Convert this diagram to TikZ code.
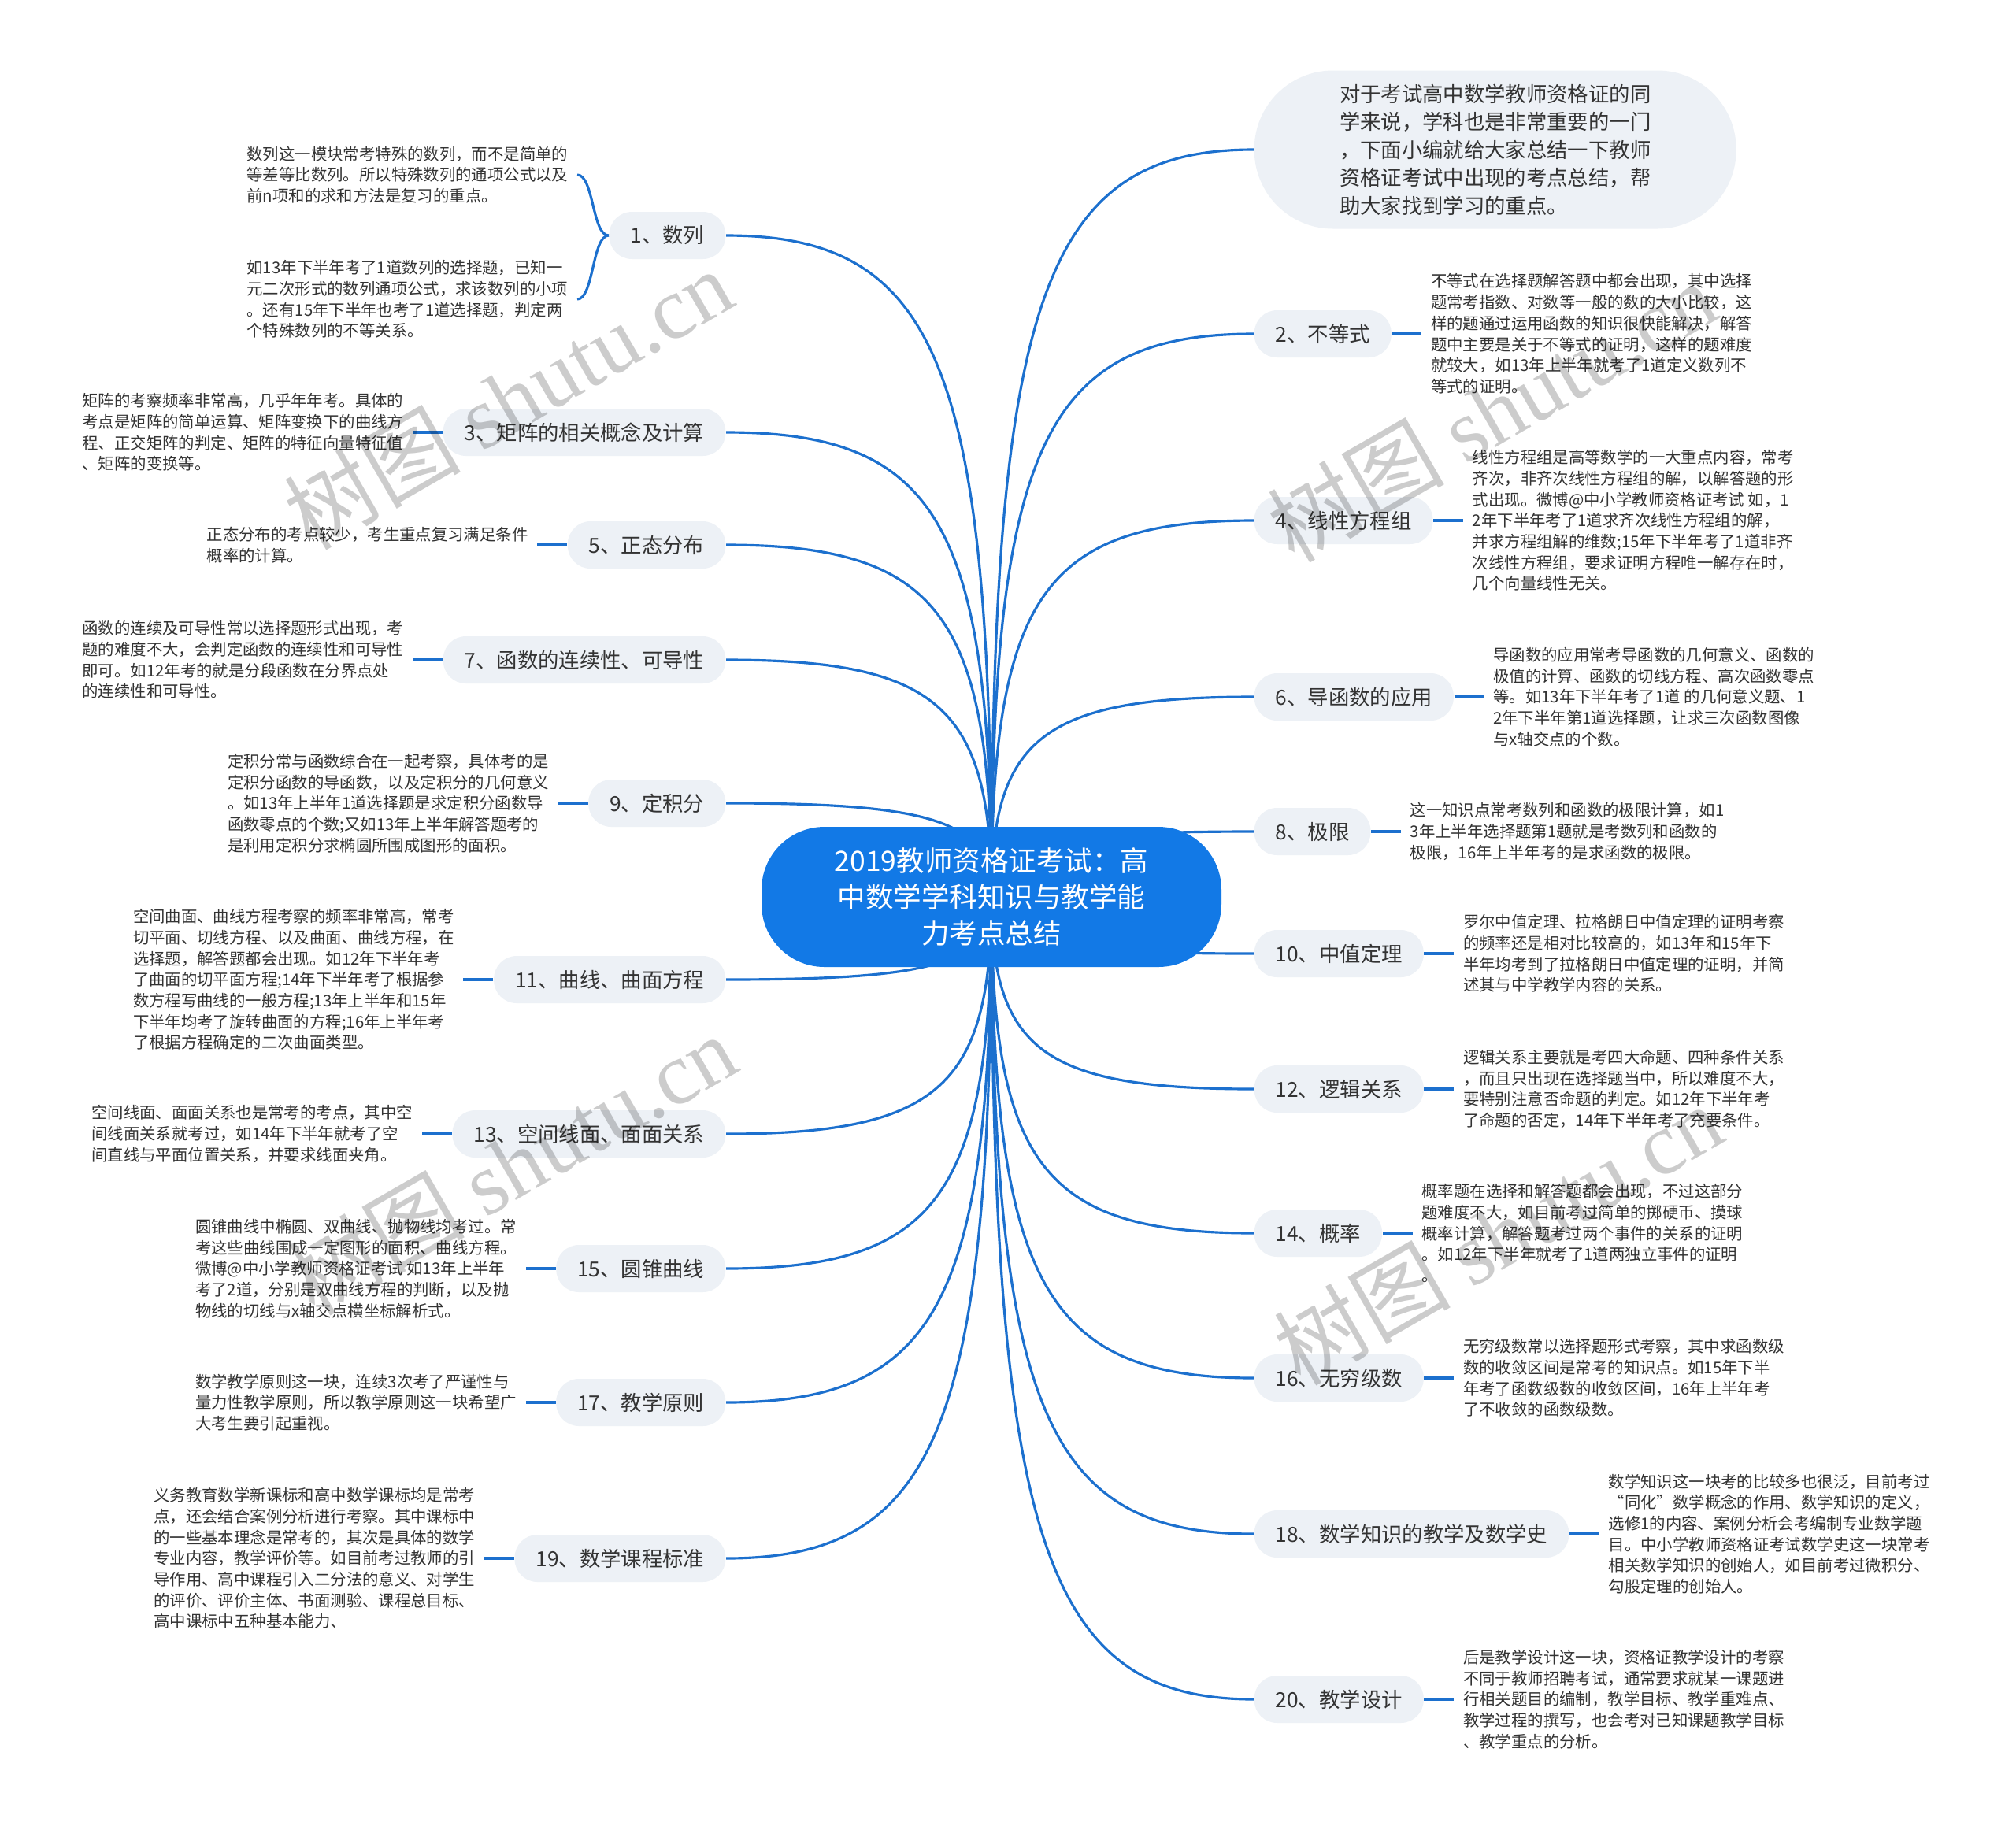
\documentclass[tikz,border=0pt]{standalone}
\usepackage{fontspec}
\setmainfont{Noto Sans CJK SC}
\newfontfamily\wmfont{Liberation Serif}
\usetikzlibrary{positioning,calc,backgrounds}

\definecolor{rootblue}{RGB}{18,121,230}
\definecolor{linkblue}{RGB}{28,112,206}
\definecolor{branchfill}{RGB}{237,241,246}
\definecolor{textgray}{RGB}{51,51,51}

\begin{document}
\begin{tikzpicture}[
  font=\fontsize{7.5}{10.1}\selectfont,
  root/.style = {
    rectangle, rounded corners=0.8cm, fill=rootblue, text=white,
    minimum width=5.84cm, minimum height=1.78cm, align=center,
    font=\fontsize{10.1}{13.2}\selectfont,
  },
  branch/.style = {
    rectangle, rounded corners=0.29cm, fill=branchfill, text=textgray,
    minimum height=0.6cm, inner xsep=0.27cm,
  },
  intro/.style = {
    rectangle, rounded corners=1cm, fill=branchfill, text=textgray,
    minimum width=6.12cm, minimum height=2.01cm, align=left,
  },
  leaf/.style = {
    align=left, inner xsep=0.11cm, inner ysep=0pt, text=textgray,
    font=\fontsize{5.8}{7.6}\selectfont,
  },
  link/.style = {draw=linkblue, line width=0.9pt},
  elbow/.style = {to path={
    .. controls ($(\tikztostart)!0.8!(\tikztostart |- \tikztotarget)$)
    and ($(\tikztotarget)!0.8!(\tikztostart |- \tikztotarget)$) .. (\tikztotarget)}},
  wmark/.style = {rotate=30, text=black, text opacity=0.2, font=\fontsize{32}{32}\selectfont},
  node distance=0.38cm,
]
  \useasboundingbox (0,0) rectangle (25.6,-23.23);

  \node[root] (root) at (12.59,-11.39) {2019教师资格证考试：高\\中数学学科知识与教学能\\力考点总结};

  \node[intro, anchor=west] (intro) at (15.92,-1.90) {对于考试高中数学教师资格证的同\\学来说，学科也是非常重要的一门\\，下面小编就给大家总结一下教师\\资格证考试中出现的考点总结，帮\\助大家找到学习的重点。};

  \node[branch, anchor=east] (b1) at (9.22,-2.99) {1、数列};
  \node[branch, anchor=east] (b3) at (9.22,-5.49) {3、矩阵的相关概念及计算};
  \node[branch, anchor=east] (b5) at (9.22,-6.92) {5、正态分布};
  \node[branch, anchor=east] (b7) at (9.22,-8.38) {7、函数的连续性、可导性};
  \node[branch, anchor=east] (b9) at (9.22,-10.20) {9、定积分};
  \node[branch, anchor=east] (b11) at (9.22,-12.44) {11、曲线、曲面方程};
  \node[branch, anchor=east] (b13) at (9.22,-14.40) {13、空间线面、面面关系};
  \node[branch, anchor=east] (b15) at (9.22,-16.11) {15、圆锥曲线};
  \node[branch, anchor=east] (b17) at (9.22,-17.81) {17、教学原则};
  \node[branch, anchor=east] (b19) at (9.22,-19.79) {19、数学课程标准};

  \node[branch, anchor=west] (b2) at (15.92,-4.24) {2、不等式};
  \node[branch, anchor=west] (b4) at (15.92,-6.61) {4、线性方程组};
  \node[branch, anchor=west] (b6) at (15.92,-8.85) {6、导函数的应用};
  \node[branch, anchor=west] (b8) at (15.92,-10.56) {8、极限};
  \node[branch, anchor=west] (b10) at (15.92,-12.11) {10、中值定理};
  \node[branch, anchor=west] (b12) at (15.92,-13.83) {12、逻辑关系};
  \node[branch, anchor=west] (b14) at (15.92,-15.66) {14、概率};
  \node[branch, anchor=west] (b16) at (15.92,-17.50) {16、无穷级数};
  \node[branch, anchor=west] (b18) at (15.92,-19.48) {18、数学知识的教学及数学史};
  \node[branch, anchor=west] (b20) at (15.92,-21.58) {20、教学设计};

  \node[leaf, anchor=east] (l1a) at (7.33,-2.22) {数列这一模块常考特殊的数列，而不是简单的\\等差等比数列。所以特殊数列的通项公式以及\\前n项和的求和方法是复习的重点。};
  \node[leaf, anchor=east] (l1b) at (7.33,-3.80) {如13年下半年考了1道数列的选择题，已知一\\元二次形式的数列通项公式，求该数列的小项\\。还有15年下半年也考了1道选择题，判定两\\个特殊数列的不等关系。};
  \node[leaf, left=of b3] (l3) {矩阵的考察频率非常高，几乎年年考。具体的\\考点是矩阵的简单运算、矩阵变换下的曲线方\\程、正交矩阵的判定、矩阵的特征向量特征值\\、矩阵的变换等。};
  \node[leaf, left=of b5] (l5) {正态分布的考点较少，考生重点复习满足条件\\概率的计算。};
  \node[leaf, left=of b7] (l7) {函数的连续及可导性常以选择题形式出现，考\\题的难度不大，会判定函数的连续性和可导性\\即可。如12年考的就是分段函数在分界点处\\的连续性和可导性。};
  \node[leaf, left=of b9] (l9) {定积分常与函数综合在一起考察，具体考的是\\定积分函数的导函数，以及定积分的几何意义\\。如13年上半年1道选择题是求定积分函数导\\函数零点的个数;又如13年上半年解答题考的\\是利用定积分求椭圆所围成图形的面积。};
  \node[leaf, left=of b11] (l11) {空间曲面、曲线方程考察的频率非常高，常考\\切平面、切线方程、以及曲面、曲线方程，在\\选择题，解答题都会出现。如12年下半年考\\了曲面的切平面方程;14年下半年考了根据参\\数方程写曲线的一般方程;13年上半年和15年\\下半年均考了旋转曲面的方程;16年上半年考\\了根据方程确定的二次曲面类型。};
  \node[leaf, left=of b13] (l13) {空间线面、面面关系也是常考的考点，其中空\\间线面关系就考过，如14年下半年就考了空\\间直线与平面位置关系，并要求线面夹角。};
  \node[leaf, left=of b15] (l15) {圆锥曲线中椭圆、双曲线、抛物线均考过。常\\考这些曲线围成一定图形的面积、曲线方程。\\微博@中小学教师资格证考试 如13年上半年\\考了2道，分别是双曲线方程的判断，以及抛\\物线的切线与x轴交点横坐标解析式。};
  \node[leaf, left=of b17] (l17) {数学教学原则这一块，连续3次考了严谨性与\\量力性教学原则，所以教学原则这一块希望广\\大考生要引起重视。};
  \node[leaf, left=of b19] (l19) {义务教育数学新课标和高中数学课标均是常考\\点，还会结合案例分析进行考察。其中课标中\\的一些基本理念是常考的，其次是具体的数学\\专业内容，教学评价等。如目前考过教师的引\\导作用、高中课程引入二分法的意义、对学生\\的评价、评价主体、书面测验、课程总目标、\\高中课标中五种基本能力、};

  \node[leaf, right=of b2] (l2) {不等式在选择题解答题中都会出现，其中选择\\题常考指数、对数等一般的数的大小比较，这\\样的题通过运用函数的知识很快能解决，解答\\题中主要是关于不等式的证明，这样的题难度\\就较大，如13年上半年就考了1道定义数列不\\等式的证明。};
  \node[leaf, right=of b4] (l4) {线性方程组是高等数学的一大重点内容，常考\\齐次，非齐次线性方程组的解，以解答题的形\\式出现。微博@中小学教师资格证考试 如，1\\2年下半年考了1道求齐次线性方程组的解，\\并求方程组解的维数;15年下半年考了1道非齐\\次线性方程组，要求证明方程唯一解存在时，\\几个向量线性无关。};
  \node[leaf, right=of b6] (l6) {导函数的应用常考导函数的几何意义、函数的\\极值的计算、函数的切线方程、高次函数零点\\等。如13年下半年考了1道 的几何意义题、1\\2年下半年第1道选择题，让求三次函数图像\\与x轴交点的个数。};
  \node[leaf, right=of b8] (l8) {这一知识点常考数列和函数的极限计算，如1\\3年上半年选择题第1题就是考数列和函数的\\极限，16年上半年考的是求函数的极限。};
  \node[leaf, right=of b10] (l10) {罗尔中值定理、拉格朗日中值定理的证明考察\\的频率还是相对比较高的，如13年和15年下\\半年均考到了拉格朗日中值定理的证明，并简\\述其与中学教学内容的关系。};
  \node[leaf, right=of b12] (l12) {逻辑关系主要就是考四大命题、四种条件关系\\，而且只出现在选择题当中，所以难度不大，\\要特别注意否命题的判定。如12年下半年考\\了命题的否定，14年下半年考了充要条件。};
  \node[leaf, right=of b14] (l14) {概率题在选择和解答题都会出现，不过这部分\\题难度不大，如目前考过简单的掷硬币、摸球\\概率计算，解答题考过两个事件的关系的证明\\。如12年下半年就考了1道两独立事件的证明\\。};
  \node[leaf, right=of b16] (l16) {无穷级数常以选择题形式考察，其中求函数级\\数的收敛区间是常考的知识点。如15年下半\\年考了函数级数的收敛区间，16年上半年考\\了不收敛的函数级数。};
  \node[leaf, right=of b18] (l18) {数学知识这一块考的比较多也很泛，目前考过\\“同化”数学概念的作用、数学知识的定义，\\选修1的内容、案例分析会考编制专业数学题\\目。中小学教师资格证考试数学史这一块常考\\相关数学知识的创始人，如目前考过微积分、\\勾股定理的创始人。};
  \node[leaf, right=of b20] (l20) {后是教学设计这一块，资格证教学设计的考察\\不同于教师招聘考试，通常要求就某一课题进\\行相关题目的编制，教学目标、教学重难点、\\教学过程的撰写，也会考对已知课题教学目标\\、教学重点的分析。};

  \begin{scope}[on background layer]
    \fill[white] (0,0) rectangle (25.6,-23.23);
    \draw[link] (root.center) to[elbow] (intro.west);
    \draw[link] (root.center) to[elbow] (b1.east);
    \draw[link] (root.center) to[elbow] (b3.east);
    \draw[link] (root.center) to[elbow] (b5.east);
    \draw[link] (root.center) to[elbow] (b7.east);
    \draw[link] (root.center) to[elbow] (b9.east);
    \draw[link] (root.center) to[elbow] (b11.east);
    \draw[link] (root.center) to[elbow] (b13.east);
    \draw[link] (root.center) to[elbow] (b15.east);
    \draw[link] (root.center) to[elbow] (b17.east);
    \draw[link] (root.center) to[elbow] (b19.east);
    \draw[link] (root.center) to[elbow] (b2.west);
    \draw[link] (root.center) to[elbow] (b4.west);
    \draw[link] (root.center) to[elbow] (b6.west);
    \draw[link] (root.center) to[elbow] (b8.west);
    \draw[link] (root.center) to[elbow] (b10.west);
    \draw[link] (root.center) to[elbow] (b12.west);
    \draw[link] (root.center) to[elbow] (b14.west);
    \draw[link] (root.center) to[elbow] (b16.west);
    \draw[link] (root.center) to[elbow] (b18.west);
    \draw[link] (root.center) to[elbow] (b20.west);
  \end{scope}

  \draw[link] (b1.west) .. controls +(-0.21,0) and +(0.21,0) .. (l1a.east);
  \draw[link] (b1.west) .. controls +(-0.21,0) and +(0.21,0) .. (l1b.east);
  \draw[link] (b3.west) -- (l3.east);
  \draw[link] (b5.west) -- (l5.east);
  \draw[link] (b7.west) -- (l7.east);
  \draw[link] (b9.west) -- (l9.east);
  \draw[link] (b11.west) -- (l11.east);
  \draw[link] (b13.west) -- (l13.east);
  \draw[link] (b15.west) -- (l15.east);
  \draw[link] (b17.west) -- (l17.east);
  \draw[link] (b19.west) -- (l19.east);
  \draw[link] (b2.east) -- (l2.west);
  \draw[link] (b4.east) -- (l4.west);
  \draw[link] (b6.east) -- (l6.west);
  \draw[link] (b8.east) -- (l8.west);
  \draw[link] (b10.east) -- (l10.west);
  \draw[link] (b12.east) -- (l12.west);
  \draw[link] (b14.east) -- (l14.west);
  \draw[link] (b16.east) -- (l16.west);
  \draw[link] (b18.east) -- (l18.west);
  \draw[link] (b20.east) -- (l20.west);

  \node[wmark] (wm1) at (6.45,-5.06) {树图 {\wmfont shutu.cn}};
  \node[wmark] (wm2) at (18.94,-5.22) {树图 {\wmfont shutu.cn}};
  \node[wmark] (wm3) at (6.50,-14.78) {树图 {\wmfont shutu.cn}};
  \node[wmark] (wm4) at (19.02,-15.67) {树图 {\wmfont shutu.cn}};
\end{tikzpicture}
\end{document}
